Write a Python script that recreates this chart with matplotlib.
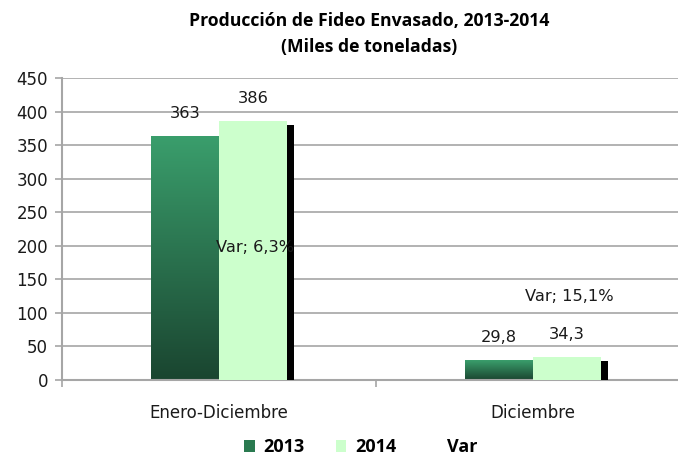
import matplotlib
matplotlib.use("Agg")
import matplotlib.pyplot as plt
import numpy as np
from matplotlib.patches import Patch
from matplotlib.colors import LinearSegmentedColormap
import matplotlib.patheffects as pe

categories = ["Enero-Diciembre", "Diciembre"]
v2013 = [363, 29.8]
v2014 = [386, 34.3]
var_pct = [6.3, 15.1]
labels2013 = ["363", "29,8"]
labels2014 = ["386", "34,3"]
var_labels = ["Var; 6,3%", "Var; 15,1%"]
var_label_y = [197, 124]
yticks = list(range(0, 451, 50))

plt.rcParams['font.family'] = ['DejaVu Sans']

fig = plt.figure(figsize=(6.78, 4.61), dpi=100)
ax = fig.add_axes([62/678, 1-380/461, (690-62)/678, (380-78)/461])

x = np.arange(len(categories))
w = 0.218
grid_c = "#a6a6a6"
txt_c = "#1a1a1a"

ax.set_ylim(0, 450)
ax.set_xlim(-0.5, 1.5)
ax.set_yticks(yticks)
ax.yaxis.grid(True, color=grid_c, lw=1.2)
ax.set_axisbelow(True)

cmap = LinearSegmentedColormap.from_list("g", ["#1a4530", "#3a9e6c"])
grad = np.linspace(0, 1, 256).reshape(-1, 1)

bars13 = ax.bar(x - w/2, v2013, w, color="#2a7a50", zorder=2)
for b in bars13:
    b.set_facecolor("none")
    bx, by = b.get_x(), b.get_y()
    bw, bh = b.get_width(), b.get_height()
    im = ax.imshow(grad, cmap=cmap, origin="lower", aspect="auto",
                   extent=[bx, bx + bw, by, by + bh], zorder=2)
    im.set_clip_path(b)

bars14 = ax.bar(x + w/2, v2014, w, color="#ccffcc", zorder=3,
                path_effects=[pe.SimplePatchShadow(offset=(5, -3), shadow_rgbFace="black", alpha=1.0),
                              pe.Normal()])

for xi, v, l in zip(x - w/2, v2013, labels2013):
    ax.text(xi, v + 34, l, ha="center", va="center", fontsize=11.7, color=txt_c, zorder=5)
for xi, v, l in zip(x + w/2, v2014, labels2014):
    ax.text(xi, v + 33, l, ha="center", va="center", fontsize=11.7, color=txt_c, zorder=5)
for xi, yv, l in zip(x, var_label_y, var_labels):
    ax.text(xi + 0.115, yv, l, ha="center", va="center", fontsize=11.7, color=txt_c, zorder=5)

for s in ["top", "right"]:
    ax.spines[s].set_visible(False)
ax.spines["left"].set_color(grid_c)
ax.spines["bottom"].set_color(grid_c)
ax.spines["left"].set_linewidth(1.5)
ax.spines["bottom"].set_linewidth(1.5)

ax.tick_params(axis="y", colors=grid_c, labelcolor=txt_c, labelsize=12, length=5, width=1.2, pad=5)
ax.set_xticks([-0.5, 0.5, 1.5], minor=False)
ax.set_xticklabels([])
ax.set_xticks(x, minor=True)
ax.set_xticklabels(categories, minor=True)
ax.tick_params(axis="x", which="major", colors=grid_c, length=5, width=1.2)
ax.tick_params(axis="x", which="minor", length=0, labelsize=12, pad=17, labelcolor=txt_c)

fig.text(0.545, 0.955, "Producción de Fideo Envasado, 2013-2014", ha="center", va="center",
         fontsize=12.7, fontweight="bold", family="Open Sans")
fig.text(0.545, 0.897, "(Miles de toneladas)", ha="center", va="center",
         fontsize=12.7, fontweight="bold", family="Open Sans")

handles = [Patch(facecolor="#2a7a50"), Patch(facecolor="#ccffcc"), Patch(facecolor="white", edgecolor="none")]
leg = fig.legend(handles, ["2013", "2014", "Var"], loc="center", bbox_to_anchor=(0.532, 0.03),
                 ncol=3, frameon=False, prop={"weight": "bold", "size": 13, "family": "Open Sans"},
                 handlelength=0.6, handleheight=0.6, handletextpad=0.5, columnspacing=1.7,
                 borderpad=0.1)

fig.savefig("out.png", dpi=100)
